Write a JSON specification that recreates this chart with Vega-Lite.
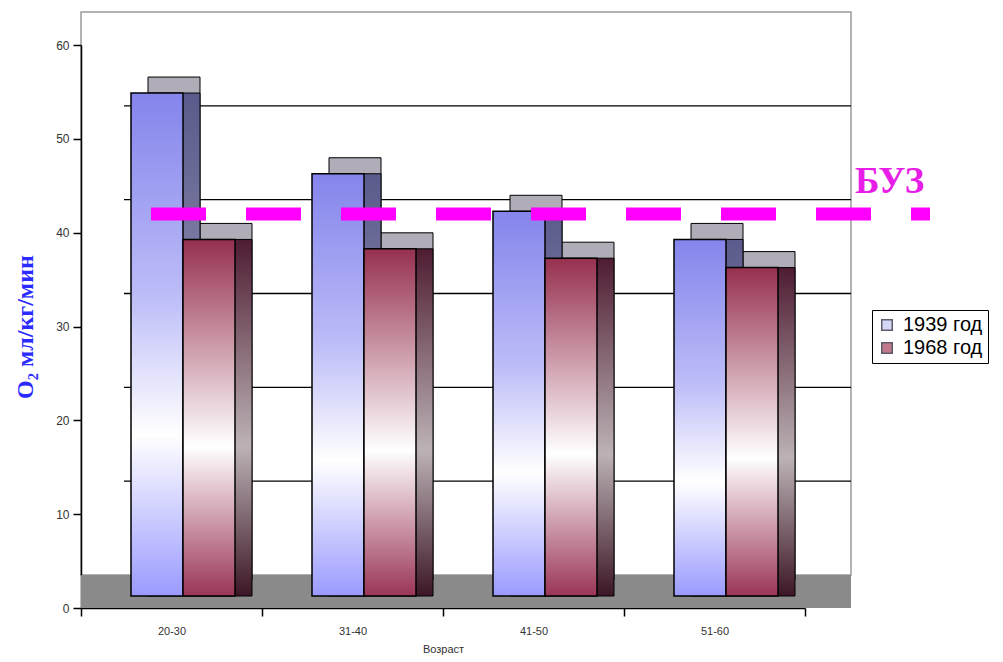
{
  "$schema": "https://vega.github.io/schema/vega-lite/v6.json",
  "width": 770,
  "height": 563,
  "autosize": {"type": "none"},
  "padding": {"left": 81, "top": 12, "right": 152, "bottom": 87},
  "background": "#ffffff",
  "config": {
    "font": "Liberation Sans",
    "view": {"fill": "#ccffcc", "stroke": "#9a9a9a", "strokeWidth": 1.5},
    "axisY": {
      "position": 33,
      "grid": false,
      "tickCount": 6,
      "domainColor": "#000000",
      "domainWidth": 1.5,
      "tickColor": "#000000",
      "tickSize": 8,
      "tickWidth": 1.5,
      "labelFont": "Liberation Sans",
      "labelFontSize": 12,
      "labelColor": "#333333",
      "labelPadding": 4,
      "titleFont": "Liberation Serif",
      "titleFontWeight": "bold",
      "titleFontSize": 24,
      "titleColor": "#2b2bff",
      "titlePadding": 18
    },
    "axisX": {
      "offset": 33,
      "tickBand": "extent",
      "grid": false,
      "domainColor": "#000000",
      "domainWidth": 1.5,
      "tickColor": "#000000",
      "tickSize": 8,
      "tickWidth": 1.5,
      "labelAngle": 0,
      "labelFont": "Liberation Sans",
      "labelFontSize": 11,
      "labelColor": "#333333",
      "labelPadding": 9,
      "titleFont": "Liberation Sans",
      "titleFontSize": 11,
      "titleFontWeight": "normal",
      "titleColor": "#333333",
      "titlePadding": 7
    }
  },
  "datasets": {
    "o2": [
      {"age": "20-30", "series": "1939 год", "value": 53.6},
      {"age": "20-30", "series": "1968 год", "value": 38},
      {"age": "31-40", "series": "1939 год", "value": 45},
      {"age": "31-40", "series": "1968 год", "value": 37},
      {"age": "41-50", "series": "1939 год", "value": 41},
      {"age": "41-50", "series": "1968 год", "value": 36},
      {"age": "51-60", "series": "1939 год", "value": 38},
      {"age": "51-60", "series": "1968 год", "value": 35}
    ],
    "grid": [{"v": 10}, {"v": 20}, {"v": 30}, {"v": 40}, {"v": 50}],
    "floor": [{"v": 0}],
    "buz": [{"level": 42, "label": "БУЗ"}]
  },
  "resolve": {"scale": {"xOffset": "independent"}},
  "layer": [
    {
      "data": {"name": "floor"},
      "mark": {"type": "rect", "color": "#8a8a8a", "y2Offset": 33},
      "encoding": {
        "y": {"field": "v", "type": "quantitative", "title": "O₂ мл/кг/мин", "scale": {"domain": [0, 60]}},
        "y2": {"field": "v"}
      }
    },
    {
      "data": {"name": "grid"},
      "mark": {"type": "rule", "color": "#000000", "strokeWidth": 1.3, "xOffset": 43},
      "encoding": {
        "x": {"value": 0},
        "x2": {"value": "width"},
        "y": {"field": "v", "type": "quantitative", "title": "O₂ мл/кг/мин", "scale": {"domain": [0, 60]}}
      }
    },
    {
      "data": {"name": "o2"},
      "mark": {"type": "bar", "yOffset": 5, "y2Offset": 5, "stroke": "#000000", "strokeWidth": 1, "color": "#b0adb8"},
      "encoding": {
        "x": {"field": "age", "type": "nominal", "sort": null, "title": "Возраст", "scale": {"range": [0, 724], "paddingInner": 0, "paddingOuter": 0}},
        "xOffset": {"field": "series", "type": "nominal", "scale": {"domain": ["1939 год", "1968 год"], "range": [67, 171], "paddingInner": 0, "paddingOuter": 0}},
        "y": {"field": "value", "type": "quantitative", "title": "O₂ мл/кг/мин", "scale": {"domain": [0, 60]}}
      }
    },
    {
      "data": {"name": "o2"},
      "transform": [{"filter": "datum.series === '1939 год'"}],
      "mark": {
        "type": "bar",
        "yOffset": 21,
        "y2Offset": 21,
        "stroke": "#000000",
        "strokeWidth": 1,
        "color": {
          "gradient": "linear", "x1": 0, "y1": 0, "x2": 0, "y2": 1,
          "stops": [
            {"offset": 0, "color": "#5a5a8c"},
            {"offset": 0.66, "color": "#9c9cb8"},
            {"offset": 1, "color": "#4c4c76"}
          ]
        }
      },
      "encoding": {
        "x": {"field": "age", "type": "nominal", "sort": null, "title": "Возраст"},
        "xOffset": {"field": "series", "type": "nominal", "scale": {"domain": ["1939 год", "1968 год"], "range": [67, 171], "paddingInner": 0, "paddingOuter": 0}},
        "y": {"field": "value", "type": "quantitative", "title": "O₂ мл/кг/мин", "scale": {"domain": [0, 60]}}
      }
    },
    {
      "data": {"name": "o2"},
      "transform": [{"filter": "datum.series === '1968 год'"}],
      "mark": {
        "type": "bar",
        "yOffset": 21,
        "y2Offset": 21,
        "stroke": "#000000",
        "strokeWidth": 1,
        "color": {
          "gradient": "linear", "x1": 0, "y1": 0, "x2": 0, "y2": 1,
          "stops": [
            {"offset": 0, "color": "#4e1c32"},
            {"offset": 0.58, "color": "#bcb2b6"},
            {"offset": 1, "color": "#3c1626"}
          ]
        }
      },
      "encoding": {
        "x": {"field": "age", "type": "nominal", "sort": null, "title": "Возраст"},
        "xOffset": {"field": "series", "type": "nominal", "scale": {"domain": ["1939 год", "1968 год"], "range": [67, 171], "paddingInner": 0, "paddingOuter": 0}},
        "y": {"field": "value", "type": "quantitative", "title": "O₂ мл/кг/мин", "scale": {"domain": [0, 60]}}
      }
    },
    {
      "data": {"name": "o2"},
      "transform": [{"filter": "datum.series === '1939 год'"}],
      "mark": {
        "type": "bar",
        "yOffset": 21,
        "y2Offset": 21,
        "stroke": "#000000",
        "strokeWidth": 1.5,
        "color": {
          "gradient": "linear", "x1": 0, "y1": 0, "x2": 0, "y2": 1,
          "stops": [
            {"offset": 0, "color": "#8484ec"},
            {"offset": 0.4, "color": "#bcbcf8"},
            {"offset": 0.68, "color": "#ffffff"},
            {"offset": 1, "color": "#9a9aff"}
          ]
        }
      },
      "encoding": {
        "x": {"field": "age", "type": "nominal", "sort": null, "title": "Возраст"},
        "xOffset": {"field": "series", "type": "nominal", "scale": {"domain": ["1939 год", "1968 год"], "range": [50, 154], "paddingInner": 0, "paddingOuter": 0}},
        "y": {"field": "value", "type": "quantitative", "title": "O₂ мл/кг/мин", "scale": {"domain": [0, 60]}}
      }
    },
    {
      "data": {"name": "o2"},
      "transform": [{"filter": "datum.series === '1968 год'"}],
      "mark": {
        "type": "bar",
        "yOffset": 21,
        "y2Offset": 21,
        "stroke": "#000000",
        "strokeWidth": 1.5,
        "color": {
          "gradient": "linear", "x1": 0, "y1": 0, "x2": 0, "y2": 1,
          "stops": [
            {"offset": 0, "color": "#96304f"},
            {"offset": 0.58, "color": "#ffffff"},
            {"offset": 1, "color": "#9a3556"}
          ]
        }
      },
      "encoding": {
        "x": {"field": "age", "type": "nominal", "sort": null, "title": "Возраст"},
        "xOffset": {"field": "series", "type": "nominal", "scale": {"domain": ["1939 год", "1968 год"], "range": [50, 154], "paddingInner": 0, "paddingOuter": 0}},
        "y": {"field": "value", "type": "quantitative", "title": "O₂ мл/кг/мин", "scale": {"domain": [0, 60]}}
      }
    },
    {
      "data": {"name": "o2"},
      "mark": {"type": "square", "size": 0, "filled": true},
      "encoding": {
        "color": {
          "field": "series",
          "type": "nominal",
          "scale": {"domain": ["1939 год", "1968 год"], "range": ["#c6c6f4", "#a8405e"]},
          "legend": {
            "title": null,
            "orient": "none",
            "legendX": 791,
            "legendY": 298,
            "strokeColor": "#000000",
            "fillColor": "#ffffff",
            "padding": 5,
            "symbolType": "square",
            "symbolSize": 110,
            "symbolStrokeColor": "#1a1a2a",
            "symbolStrokeWidth": 1.5,
            "labelFont": "Liberation Sans",
            "labelFontSize": 20,
            "labelColor": "#000000",
            "labelOffset": 6,
            "labelLimit": 0,
            "rowPadding": 3
          }
        }
      }
    },
    {
      "data": {"name": "buz"},
      "mark": {
        "type": "rule",
        "color": "#ff00ff",
        "strokeWidth": 13,
        "strokeDash": [55, 40],
        "strokeCap": "butt",
        "yOffset": 33,
        "xOffset": 70,
        "x2Offset": 79
      },
      "encoding": {
        "x": {"value": 0},
        "x2": {"value": "width"},
        "y": {"field": "level", "type": "quantitative", "title": "O₂ мл/кг/мин", "scale": {"domain": [0, 60]}}
      }
    },
    {
      "data": {"name": "buz"},
      "mark": {
        "type": "text",
        "font": "Liberation Serif",
        "fontWeight": "bold",
        "fontSize": 37,
        "color": "#e81ee8",
        "align": "left",
        "baseline": "alphabetic",
        "dx": 4,
        "dy": 12
      },
      "encoding": {
        "x": {"value": "width"},
        "y": {"field": "level", "type": "quantitative", "title": "O₂ мл/кг/мин", "scale": {"domain": [0, 60]}},
        "text": {"field": "label"}
      }
    }
  ]
}
